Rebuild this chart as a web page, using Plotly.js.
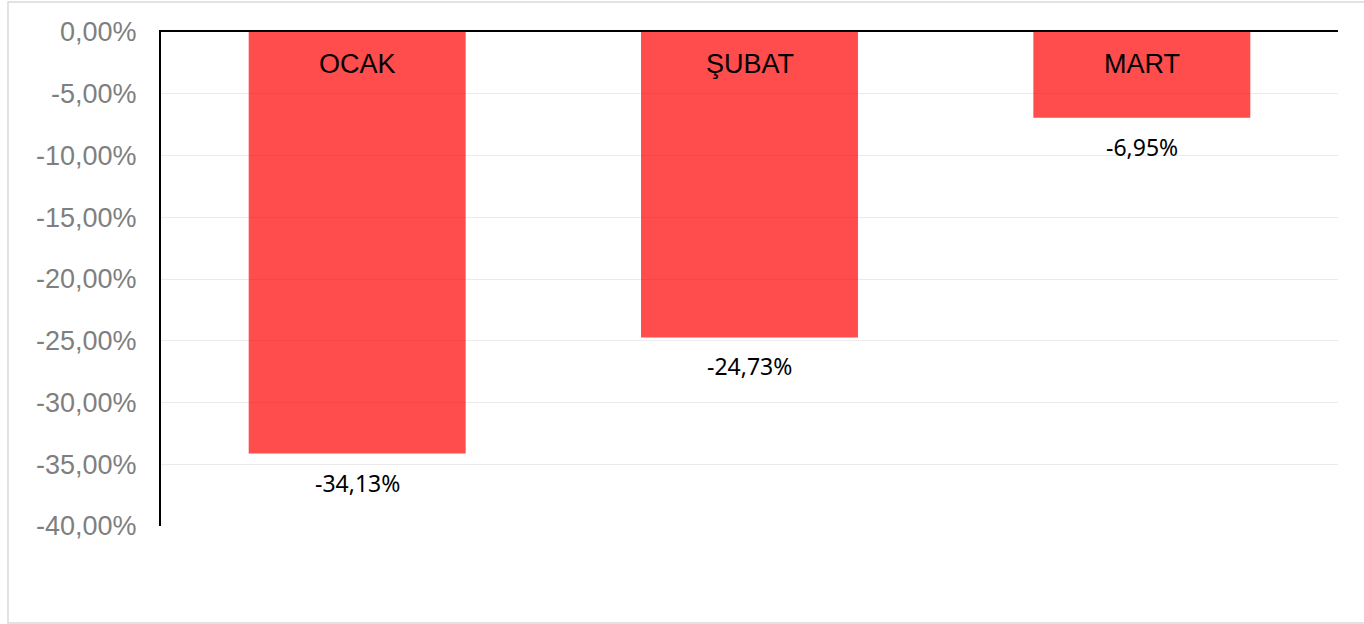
<!DOCTYPE html>
<html>
<head>
<meta charset="utf-8">
<script src="https://cdn.plot.ly/plotly-3.0.1.min.js"></script>
<style>html,body{margin:0;padding:0;background:#fff;}#chart{width:1364px;height:624px;}</style>
</head>
<body>
<div id="chart"></div>
<script>
const categories = ["OCAK", "ŞUBAT", "MART"];
const values = [-34.13, -24.73, -6.95];
const valueLabels = ["-34,13%", "-24,73%", "-6,95%"];
const tickVals = [0, -5, -10, -15, -20, -25, -30, -35, -40];
const tickText = ["0,00%", "-5,00%", "-10,00%", "-15,00%", "-20,00%", "-25,00%", "-30,00%", "-35,00%", "-40,00%"];

const trace = {
  type: "bar",
  x: categories,
  y: values,
  marker: {color: "rgba(255,0,0,0.70)", line: {width: 0}},
  hoverinfo: "skip"
};

const annotations = [];
categories.forEach((c, i) => {
  annotations.push({
    x: c, y: 0, xref: "x", yref: "y", text: c, showarrow: false,
    yanchor: "top", yshift: -15,
    font: {family: "Liberation Sans, Arial, sans-serif", size: 27, color: "#000"}
  });
  annotations.push({
    x: c, y: values[i], xref: "x", yref: "y", text: valueLabels[i], showarrow: false,
    yanchor: "top", yshift: -11,
    font: {family: "Noto Sans, sans-serif", size: 23, color: "#000"}
  });
});

const layout = {
  width: 1364, height: 624,
  margin: {l: 161, r: 26, t: 32, b: 98, pad: 0},
  paper_bgcolor: "#fff", plot_bgcolor: "#fff",
  showlegend: false,
  bargap: 0.447,
  xaxis: {
    type: "category", side: "top", showticklabels: false, ticks: "",
    showline: true, linecolor: "#000", linewidth: 2, showgrid: false, zeroline: false,
    fixedrange: true
  },
  yaxis: {
    range: [-40, 0], tickvals: tickVals, ticktext: tickText,
    showline: true, linecolor: "#000", linewidth: 2,
    showgrid: true, gridcolor: "#ebebeb", gridwidth: 1, zeroline: false,
    ticks: "", ticklabelstandoff: 17,
    tickfont: {family: "Liberation Sans, Arial, sans-serif", size: 27, color: "#7f7f7f"},
    fixedrange: true
  },
  annotations: annotations,
  shapes: [{
    type: "rect", xref: "paper", yref: "paper",
    x0: -0.13, x1: 1.04, y0: -0.1964, y1: 1.0607,
    line: {color: "#d9d9d9", width: 1.5}, fillcolor: "rgba(0,0,0,0)", layer: "below"
  }]
};

Plotly.newPlot("chart", [trace], layout, {displayModeBar: false, staticPlot: true});
</script>
</body>
</html>
